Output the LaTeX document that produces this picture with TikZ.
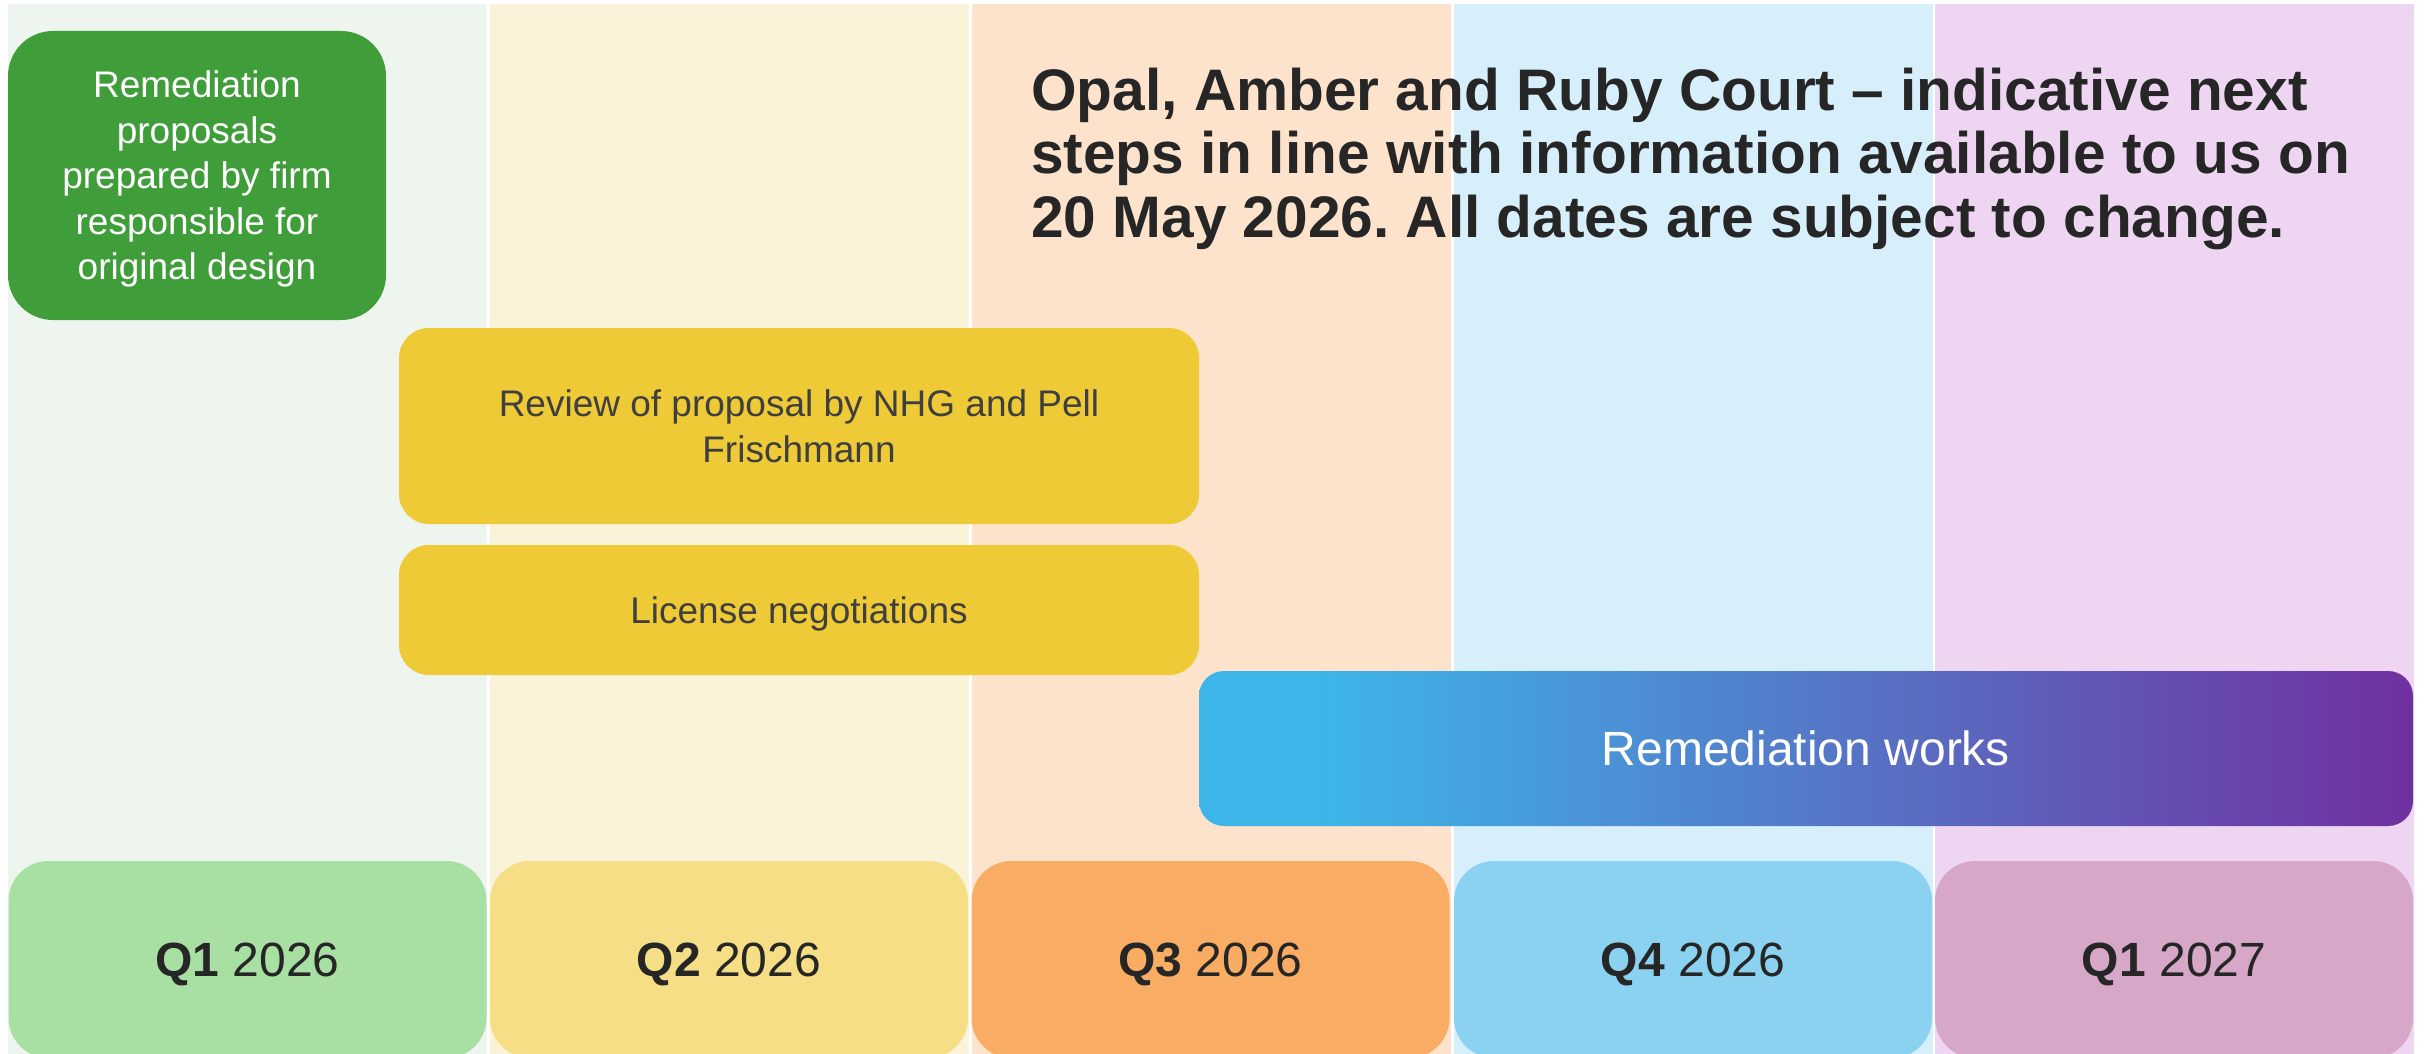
\documentclass[tikz,border=0pt]{standalone}
\usepackage{fontspec}
\setmainfont{Liberation Sans}
\frenchspacing

\definecolor{spalteA}{HTML}{EEF5EE}
\definecolor{spalteB}{HTML}{FBF3D9}
\definecolor{spalteC}{HTML}{FDE3CC}
\definecolor{spalteD}{HTML}{D6EFFA}
\definecolor{spalteE}{HTML}{EED5F2}
\definecolor{quartal1}{HTML}{A8DFA2}
\definecolor{quartal2}{HTML}{F5DE85}
\definecolor{quartal3}{HTML}{F8AC64}
\definecolor{quartal4}{HTML}{8BD2F1}
\definecolor{quartal5}{HTML}{D6A7C7}
\definecolor{gruen}{HTML}{409E3A}
\definecolor{gelb}{HTML}{EECA37}
\definecolor{blau}{HTML}{3DB5E8}
\definecolor{lila}{HTML}{7030A0}
\definecolor{textdunkel}{HTML}{262626}
\definecolor{textgrau}{HTML}{3F3F3F}

\pgfdeclarehorizontalshading{sanierung}{100bp}{color(0bp)=(blau); color(30bp)=(blau); color(75bp)=(lila); color(100bp)=(lila)}

\begin{document}
\begin{tikzpicture}[yscale = -1,
	balken/.style = {rounded corners = 30pt, inner sep = 0pt, align = center, text depth = 0pt, font = \fontsize{37pt}{45.5pt}\selectfont},
	quartal/.style = {rounded corners = 40pt, minimum width = 478pt, minimum height = 197pt, inner sep = 0pt, text depth = 0pt, text = textdunkel, font = \fontsize{48pt}{56pt}\selectfont}]
	\useasboundingbox (0pt, 0pt) rectangle (2425pt, 1054pt);
	\clip (0pt, 0pt) rectangle (2425pt, 1054pt);

	% Spalten:
	\foreach \x/\farbe in {8/spalteA, 490/spalteB, 972/spalteC, 1454/spalteD, 1935/spalteE} {
		\fill [\farbe] (\x pt, 4pt) rectangle ++(479pt, 1050pt);
	}

	% Quartale:
	\foreach \n/\x/\bez/\jahr in {1/247.5/Q1/2026, 2/729/Q2/2026, 3/1210.5/Q3/2026, 4/1693/Q4/2026, 5/2174/Q1/2027} {
		\node [quartal, fill = quartal\n] (q\n) at (\x pt, 959.5pt) {\textbf{\bez} \jahr};
	}

	% Balken:
	\node [balken, fill = gruen, text = white, minimum width = 378pt, minimum height = 289pt, rounded corners = 45pt] (vorschlag) at (197pt, 175.5pt) {Remediation\\proposals\\prepared by firm\\responsible for\\original design};
	\node [balken, fill = gelb, text = textgrau, minimum width = 800pt, minimum height = 196pt] (pruefung) at (799pt, 426pt) {Review of proposal by NHG and Pell\\Frischmann};
	\node [balken, fill = gelb, text = textgrau, minimum width = 800pt, minimum height = 130pt] (lizenz) at (799pt, 610pt) {License negotiations};
	\node [balken, shade, shading = sanierung, text = white, minimum width = 1214pt, minimum height = 155pt, rounded corners = 25pt, font = \fontsize{48pt}{56pt}\selectfont] (sanierung) at (1806pt, 748.5pt) {Remediation works};

	% Titel:
	\node [anchor = north west, inner sep = 0pt, align = left, text = textdunkel, font = \fontsize{58.6pt}{63.5pt}\selectfont\bfseries] (titel) at (1031pt, 67.5pt) {Opal, Amber and Ruby Court – indicative next\\steps in line with information available to us on\\20 May 2026. All dates are subject to change.};
\end{tikzpicture}
\end{document}
